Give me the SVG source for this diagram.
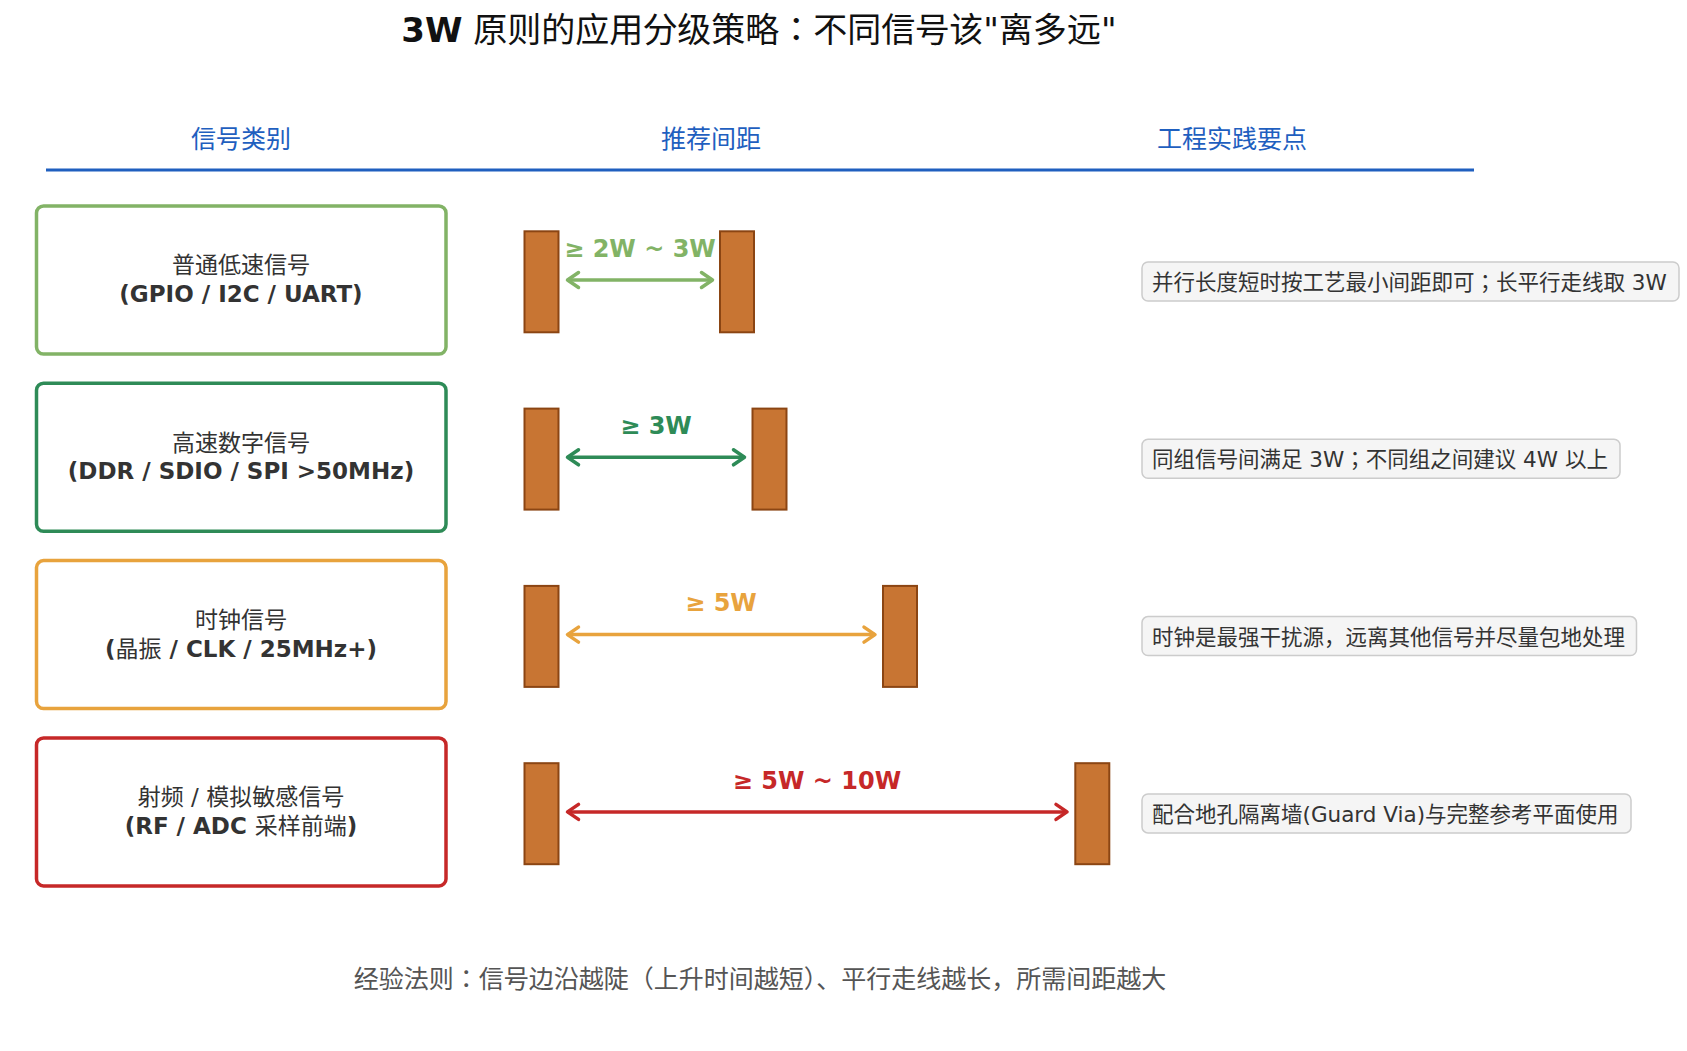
<svg xmlns="http://www.w3.org/2000/svg" width="1687" height="1051" viewBox="0 0 1687 1051">
<style>
text{font-family:"DejaVu Sans","Noto Sans CJK JP",sans-serif;}
.title{font-size:34px;fill:#111;}
.hdr{font-size:25px;fill:#1f5fbf;text-anchor:middle;}
.cat{fill:#fff;stroke-width:3.5;}
.t1{font-size:23px;fill:#333;text-anchor:middle;}
.t2{font-size:23px;fill:#333;font-weight:bold;text-anchor:middle;}
.cj{font-weight:normal;}
.bar{fill:#C87533;stroke:#8B4513;stroke-width:2;}
.lbl{font-size:24px;font-weight:bold;text-anchor:middle;}
.arr{stroke-width:3.5;fill:none;}
.note{fill:#f5f5f5;stroke:#cccccc;stroke-width:1.5;}
.nt{font-size:21.5px;fill:#333;}
.foot{font-size:25px;fill:#555;text-anchor:middle;}
</style>
<defs>
<marker id="mg1" markerUnits="userSpaceOnUse" markerWidth="30" markerHeight="30" refX="0" refY="0" orient="auto-start-reverse" overflow="visible"><path d="M-11,-7.5 L0,0 L-11,7.5" fill="none" stroke="#82B366" stroke-width="3.5" stroke-linecap="round" stroke-linejoin="round"/></marker>
<marker id="mg2" markerUnits="userSpaceOnUse" markerWidth="30" markerHeight="30" refX="0" refY="0" orient="auto-start-reverse" overflow="visible"><path d="M-11,-7.5 L0,0 L-11,7.5" fill="none" stroke="#2E8B57" stroke-width="3.5" stroke-linecap="round" stroke-linejoin="round"/></marker>
<marker id="mo" markerUnits="userSpaceOnUse" markerWidth="30" markerHeight="30" refX="0" refY="0" orient="auto-start-reverse" overflow="visible"><path d="M-11,-7.5 L0,0 L-11,7.5" fill="none" stroke="#E8A33D" stroke-width="3.5" stroke-linecap="round" stroke-linejoin="round"/></marker>
<marker id="mr" markerUnits="userSpaceOnUse" markerWidth="30" markerHeight="30" refX="0" refY="0" orient="auto-start-reverse" overflow="visible"><path d="M-11,-7.5 L0,0 L-11,7.5" fill="none" stroke="#C62828" stroke-width="3.5" stroke-linecap="round" stroke-linejoin="round"/></marker>
</defs>
<rect width="1687" height="1051" fill="#fff"/>
<text class="title" x="759" y="42" text-anchor="middle"><tspan font-weight="bold">3W</tspan> 原则的应用分级策略：不同信号该"离多远"</text>
<g id="header">
<text class="hdr" x="241" y="147.5">信号类别</text>
<text class="hdr" x="711" y="147.5">推荐间距</text>
<text class="hdr" x="1232" y="147.5">工程实践要点</text>
<line x1="46" y1="170" x2="1474" y2="170" stroke="#1f5fbf" stroke-width="3"/>
</g>
<g id="row1">
<rect class="cat" x="36.5" y="206" width="409.5" height="148" rx="7" stroke="#82B366"/>
<text class="t1" x="241" y="273.4">普通低速信号</text>
<text class="t2" x="241" y="302">(GPIO / I2C / UART)</text>
<rect class="bar" x="524.5" y="231.3" width="34" height="101"/>
<rect class="bar" x="720" y="231.3" width="34" height="101"/>
<text class="lbl" x="640" y="256.7" fill="#82B366">≥ 2W ~ 3W</text>
<rect class="note" x="1142" y="262" width="537" height="39" rx="6"/>
<text class="nt" x="1152" y="290">并行长度短时按工艺最小间距即可；长平行走线取 3W</text>
</g>
<g id="row2">
<rect class="cat" x="36.5" y="383.3" width="409.5" height="148" rx="7" stroke="#2E8B57"/>
<text class="t1" x="241" y="450.7">高速数字信号</text>
<text class="t2" x="241" y="479.3">(DDR / SDIO / SPI &gt;50MHz)</text>
<rect class="bar" x="524.5" y="408.6" width="34" height="101"/>
<rect class="bar" x="752.5" y="408.6" width="34" height="101"/>
<text class="lbl" x="656" y="434" fill="#2E8B57">≥ 3W</text>
<rect class="note" x="1142" y="439.3" width="478" height="39" rx="6"/>
<text class="nt" x="1152" y="467.3">同组信号间满足 3W；不同组之间建议 4W 以上</text>
</g>
<g id="row3">
<rect class="cat" x="36.5" y="560.6" width="409.5" height="148" rx="7" stroke="#E8A33D"/>
<text class="t1" x="241" y="628">时钟信号</text>
<text class="t2" x="241" y="656.6">(<tspan class="cj">晶振</tspan> / CLK / 25MHz+)</text>
<rect class="bar" x="524.5" y="585.9" width="34" height="101"/>
<rect class="bar" x="883" y="585.9" width="34" height="101"/>
<text class="lbl" x="721" y="611.3" fill="#E8A33D">≥ 5W</text>
<rect class="note" x="1142" y="616.6" width="494.5" height="39" rx="6"/>
<text class="nt" x="1152" y="644.6">时钟是最强干扰源，远离其他信号并尽量包地处理</text>
</g>
<g id="row4">
<rect class="cat" x="36.5" y="737.9" width="409.5" height="148" rx="7" stroke="#C62828"/>
<text class="t1" x="241" y="805.3">射频 / 模拟敏感信号</text>
<text class="t2" x="241" y="833.9">(RF / ADC <tspan class="cj">采样前端</tspan>)</text>
<rect class="bar" x="524.5" y="763.2" width="34" height="101"/>
<rect class="bar" x="1075.3" y="763.2" width="34" height="101"/>
<text class="lbl" x="817" y="788.6" fill="#C62828">≥ 5W ~ 10W</text>
<rect class="note" x="1142" y="793.9" width="489" height="39" rx="6"/>
<text class="nt" x="1152" y="821.9">配合地孔隔离墙(Guard Via)与完整参考平面使用</text>
</g>
<g id="connectors">
<line class="arr" x1="567.5" y1="280" x2="712.5" y2="280" stroke="#82B366" marker-start="url(#mg1)" marker-end="url(#mg1)"/>
<line class="arr" x1="567.5" y1="457.3" x2="744.5" y2="457.3" stroke="#2E8B57" marker-start="url(#mg2)" marker-end="url(#mg2)"/>
<line class="arr" x1="567.5" y1="634.6" x2="875" y2="634.6" stroke="#E8A33D" marker-start="url(#mo)" marker-end="url(#mo)"/>
<line class="arr" x1="567.5" y1="811.9" x2="1067" y2="811.9" stroke="#C62828" marker-start="url(#mr)" marker-end="url(#mr)"/>
</g>
<text class="foot" x="760" y="988">经验法则：信号边沿越陡（上升时间越短）、平行走线越长，所需间距越大</text>
</svg>
